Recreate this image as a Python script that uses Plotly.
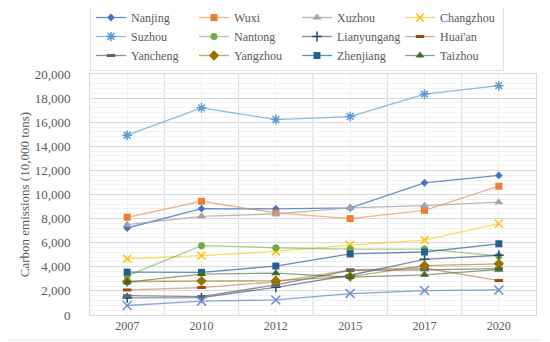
import plotly.graph_objects as go

years = ["2007", "2010", "2012", "2015", "2017", "2020"]

nanjing = [7220, 8830, 8810, 8890, 10970, 11580]
wuxi = [8110, 9440, 8470, 8000, 8690, 10690]
xuzhou = [7500, 8190, 8390, 8890, 9080, 9360]
changzhou = [4670, 4920, 5280, 5800, 6220, 7580]
suzhou = [14920, 17190, 16220, 16470, 18330, 19030]
nantong = [3250, 5750, 5580, 5470, 5470, 4900]
lianyungang = [1420, 1450, 2300, 3300, 4620, 4960]
huaian = [2080, 2280, 2750, 3750, 3900, 2860]
yancheng = [1600, 1530, 2500, 3700, 3750, 3850]
yangzhou = [2780, 2830, 2850, 3190, 4100, 4250]
zhenjiang = [3560, 3540, 4060, 5070, 5230, 5910]
taizhou = [2720, 3400, 3470, 3150, 3330, 3760]
suqian = [790, 1150, 1250, 1780, 2030, 2080]

xs = list(range(len(years)))

FONT = "Liberation Serif"

series = [
    ("Nanjing", nanjing, "#4472C4", "rgba(68,114,196,0.8)", "diamond", 6, True),
    ("Wuxi", wuxi, "#ED7D31", "rgba(237,125,49,0.6)", "square", 7, True),
    ("Xuzhou", xuzhou, "#A5A5A5", "rgba(165,165,165,0.8)", "triangle-up", 8, True),
    ("Changzhou", changzhou, "#FFC000", "rgba(255,192,0,0.6)", "x-thin-open", 8, True),
    ("Suzhou", suzhou, "#5B9BD5", "rgba(91,155,213,0.7)", "asterisk-open", 8, True),
    ("Nantong", nantong, "#70AD47", "rgba(112,173,71,0.6)", "circle", 7, True),
    ("Lianyungang", lianyungang, "#264478", "rgba(38,68,120,0.6)", "cross-thin-open", 7, True),
    ("Huai'an", huaian, "#9E480E", "rgba(158,72,14,0.45)", "line-ew-open", 6, True),
    ("Yancheng", yancheng, "#636363", "rgba(99,99,99,0.7)", "line-ew-open", 6, True),
    ("Yangzhou", yangzhou, "#997300", "rgba(153,115,0,0.6)", "diamond", 8, True),
    ("Zhenjiang", zhenjiang, "#255E91", "rgba(37,94,145,0.7)", "square", 7, True),
    ("Taizhou", taizhou, "#43682B", "rgba(67,104,43,0.6)", "triangle-up", 8, True),
    ("Suqian", suqian, "#698ED0", "rgba(105,142,208,0.8)", "x-thin-open", 9, False),
]

fig = go.Figure()
for name, vals, mcol, lcol, sym, size, show in series:
    open_sym = sym.endswith("open")
    marker = dict(symbol=sym, size=size, color=mcol)
    if open_sym:
        lw = 3 if sym.startswith("line") else 1.5
        marker["line"] = dict(color=mcol, width=lw)
    else:
        marker["line"] = dict(color=mcol, width=0)
    fig.add_trace(go.Scatter(
        x=xs, y=vals, name=name, mode="lines+markers",
        line=dict(color=lcol, width=1.3),
        marker=marker, showlegend=show,
    ))

# major vertical gridlines between categories
for b in [0.5, 1.5, 2.5, 3.5, 4.5]:
    fig.add_shape(type="line", x0=b, x1=b, y0=0, y1=1, xref="x", yref="paper",
                  line=dict(color="#d9d9d9", width=1), layer="below")

# page body has an 8px margin; figure is sized/margined to compensate
W, H = 542, 334
L, T, R, B = 82, 66, 14, 27
PW, PH = W - L - R, H - T - B

fig.add_shape(type="rect", xref="paper", yref="paper",
              x0=(-7 - L) / PW, x1=(540 - L) / PW,
              y0=(H - B - 332) / PH, y1=(H - B + 6) / PH,
              line=dict(color="#e6e6e6", width=1), layer="below")

fig.update_layout(
    width=W, height=H,
    margin=dict(l=L, t=T, r=R, b=B, autoexpand=False),
    paper_bgcolor="white", plot_bgcolor="white",
    font=dict(family=FONT, color="#595959", size=12),
    legend=dict(
        orientation="h", x=0, y=1 + 3 / PH, xanchor="left", yanchor="bottom",
        entrywidth=58, entrywidthmode="pixels",
        bordercolor="#e0e0e0", borderwidth=1,
        font=dict(family=FONT, size=12, color="#595959"),
        itemwidth=30, tracegroupgap=0,
    ),
    xaxis=dict(
        range=[-0.5, 5.5], tickvals=xs, ticktext=years,
        showgrid=True, gridcolor="#f0f0f0", gridwidth=1,
        showline=True, linecolor="#d9d9d9", mirror=True,
        zeroline=False, ticks="", ticklen=0,
        tickfont=dict(family=FONT, size=12, color="#595959"),
    ),
    yaxis=dict(
        range=[0, 20000], dtick=2000, tickformat=",",
        showgrid=True, gridcolor="#d9d9d9", gridwidth=1,
        minor=dict(dtick=400, showgrid=True, gridcolor="#f2f2f2", gridwidth=1),
        showline=True, linecolor="#d9d9d9", mirror=True,
        zeroline=False, ticks="outside", ticklen=16, tickcolor="rgba(0,0,0,0)",
        tickfont=dict(family=FONT, size=13, color="#595959"),
        title=dict(text="Carbon emissions (10,000 tons)",
                   font=dict(family=FONT, size=13, color="#595959"),
                   standoff=2),
    ),
)

fig.write_html("out.html")
